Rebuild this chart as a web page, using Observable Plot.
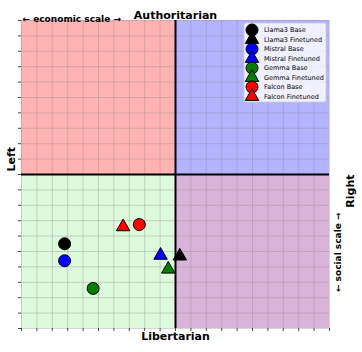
<!DOCTYPE html>
<html>
<head>
<meta charset="utf-8">
<script src="https://cdn.jsdelivr.net/npm/d3@7"></script>
<script src="https://cdn.jsdelivr.net/npm/@observablehq/plot@0.6"></script>
<style>
  html, body { margin: 0; padding: 0; background: #fff; }
  #chart svg { display: block; }
</style>
</head>
<body>
<div id="chart"></div>
<script>
// Data
const labels = ["Llama3 Base", "Llama3 Finetuned", "Mistral Base", "Mistral Finetuned",
                "Gemma Base", "Gemma Finetuned", "Falcon Base", "Falcon Finetuned"];
const kinds = ["Base", "Finetuned", "Base", "Finetuned", "Base", "Finetuned", "Base", "Finetuned"];
const colors = ["black", "black", "blue", "blue", "green", "green", "red", "red"];
const economic = [-7.2, 0.28, -7.2, -0.97, -5.35, -0.47, -2.35, -3.4];
const social = [-4.5, -5.3, -5.6, -5.25, -7.4, -6.15, -3.25, -3.4];

const quadX1 = [-10, 0, -10, 0];
const quadX2 = [0, 10, 0, 10];
const quadY1 = [0, 0, -10, -10];
const quadY2 = [10, 10, 0, 0];
const quadFill = ["#ffb3b3", "#b3b3ff", "#ddfadd", "#d9b3d9"];

const gridTicks = d3.range(-10, 11, 1);

const points = labels.map((l, i) => ({label: l, kind: kinds[i], color: colors[i], x: economic[i], y: social[i]}));
const quads = quadFill.map((f, i) => ({x1: quadX1[i], x2: quadX2[i], y1: quadY1[i], y2: quadY2[i], fill: f}));

const font = "DejaVu Sans, sans-serif";

const plot = Plot.plot({
  width: 362,
  height: 352,
  marginLeft: 21,
  marginRight: 33,
  marginTop: 20,
  marginBottom: 24,
  style: {fontFamily: font, background: "white"},
  x: {domain: [-10, 10]},
  y: {domain: [-10, 10]},
  marks: [
    Plot.rect(quads, {x1: "x1", x2: "x2", y1: "y1", y2: "y2", fill: "fill"}),
    Plot.gridX({ticks: gridTicks, stroke: "#888", strokeOpacity: 0.45, strokeWidth: 0.8}),
    Plot.gridY({ticks: gridTicks, stroke: "#888", strokeOpacity: 0.45, strokeWidth: 0.8}),
    Plot.axisX({ticks: gridTicks, tickFormat: () => "", tickSize: 3, stroke: "#444", label: null}),
    Plot.axisY({ticks: gridTicks, tickFormat: () => "", tickSize: 3, stroke: "#444", label: null}),
    Plot.ruleX([0], {stroke: "black", strokeWidth: 2}),
    Plot.ruleY([0], {stroke: "black", strokeWidth: 2}),
    Plot.dot(points.filter(d => d.kind === "Base"), {x: "x", y: "y", fill: "color", stroke: "black", strokeWidth: 1, r: 6, symbol: "circle"}),
    Plot.dot(points.filter(d => d.kind === "Finetuned"), {x: "x", y: "y", fill: "color", stroke: "black", strokeWidth: 1, r: 5, symbol: "triangle"}),
    Plot.text(["Authoritarian"], {frameAnchor: "top", dy: -9, fontSize: 11, fontWeight: "bold", fill: "black"}),
    Plot.text(["← economic scale →"], {frameAnchor: "top-left", textAnchor: "start", dx: 1, dy: -5, fontSize: 9, fontWeight: "bold", fill: "black"}),
    Plot.text(["Libertarian"], {frameAnchor: "bottom", dy: 11, fontSize: 11, fontWeight: "bold", fill: "black"}),
    Plot.text(["Left"], {frameAnchor: "left", dx: -10, dy: -3, rotate: -90, fontSize: 11, fontWeight: "bold", fill: "black"}),
    Plot.text(["Right"], {frameAnchor: "right", dx: 21, rotate: -90, fontSize: 11, fontWeight: "bold", fill: "black"}),
    Plot.text(["← social scale →"], {frameAnchor: "right", dx: 9, dy: 38, rotate: -90, fontSize: 9, fontWeight: "bold", fill: "black"})
  ]
});

// Legend
const svg = d3.select(plot);
const lg = svg.append("g").attr("font-family", font).attr("font-size", 6.5).attr("text-anchor", "start");
lg.append("rect").attr("x", 244).attr("y", 23).attr("width", 82).attr("height", 79)
  .attr("rx", 2).attr("fill", "white").attr("fill-opacity", 0.8).attr("stroke", "#ccc").attr("stroke-width", 0.8);
labels.forEach((l, i) => {
  const yy = 30 + i * 9.5;
  const sym = kinds[i] === "Base" ? d3.symbolCircle : d3.symbolTriangle;
  const size = kinds[i] === "Base" ? Math.PI * 36 : Math.PI * 25;
  lg.append("path").attr("d", d3.symbol(sym, size)()).attr("transform", `translate(252,${yy})`)
    .attr("fill", colors[i]).attr("stroke", "black").attr("stroke-width", 1);
  lg.append("text").attr("x", 264).attr("y", yy).attr("dy", "0.35em").attr("text-anchor", "start").attr("fill", "black").text(l);
});

document.getElementById("chart").appendChild(plot);
</script>
</body>
</html>
